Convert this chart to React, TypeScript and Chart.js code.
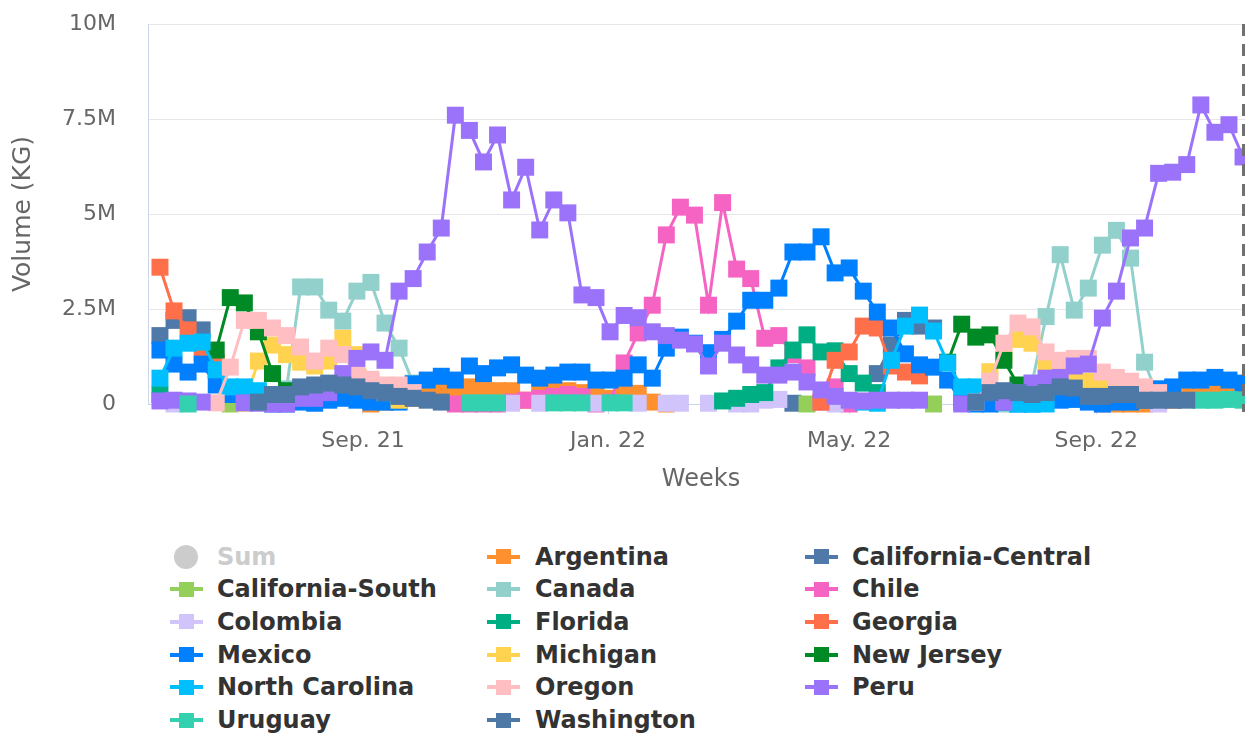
import React, { useEffect, useRef } from 'react';
import { Chart, registerables } from 'chart.js';

Chart.register(...registerables);

const _ = null;

// Weekly data, week 0 = 2021-05-23 (values in millions of KG)
const weekStart = Date.UTC(2021, 4, 23);
const axisMin = -0.85;
const axisMax = 77.78;
const markerWeek = 77;

const tickDates = [Date.UTC(2021, 8, 1), Date.UTC(2022, 0, 1), Date.UTC(2022, 4, 1), Date.UTC(2022, 8, 1)];
const tickLabels = ['Sep. 21', 'Jan. 22', 'May. 22', 'Sep. 22'];
const yTickValues = [0, 2.5, 5, 7.5, 10];
const yTickLabels = ['0', '2.5M', '5M', '7.5M', '10M'];

const argentina = [
  _, _, _, _, _, _, _, _, _, _,
  _, _, _, _, _, 0, 0.05, 0.1, 0.15, 0.3,
  0.35, 0.4, 0.45, 0.45, 0.35, 0.35, 0.1, 0.35, 0.35, 0.35,
  0.3, 0.3, 0.15, 0.3, 0.28, 0.05, 0, _, _, _,
  _, _, _, _, _, _, _, _, _, _,
  _, _, _, _, _, _, _, _, _, _,
  _, _, _, _, _, _, _, 0, 0, 0,
  0, 0.05, 0.1, 0.2, 0.3, 0.3, 0.25, 0.3,
];
const californiaCentral = [
  1.8, 2.2, 2.27, 1.95, 0.9, _, _, _, _, _,
  _, _, _, _, _, _, _, _, _, _,
  _, _, _, _, _, _, _, _, _, _,
  _, _, _, _, _, _, _, _, _, _,
  _, _, _, _, _, 0.02, _, _, _, _,
  _, 0.8, 1.55, 2.2, 2.05, 2.0, _, _, _, _,
  _, _, _, _, _, _, _, _, _, _,
  _, _, _, _, _, _, _, _,
];
const californiaSouth = [
  _, _, _, _, _, 0, _, _, _, _,
  _, _, _, _, _, _, _, _, _, _,
  _, _, _, _, _, _, _, _, _, _,
  _, _, _, _, _, _, _, _, _, _,
  _, _, _, _, _, _, 0, _, _, _,
  _, _, _, _, _, 0, _, _, _, _,
  _, _, _, _, _, _, _, _, _, _,
  _, _, _, _, _, _, _, _,
];
const canada = [
  _, _, _, _, _, _, _, _, _, 0.4,
  3.08, 3.08, 2.47, 2.18, 2.97, 3.2, 2.13, 1.47, 0.55, _,
  _, _, _, _, _, _, _, _, _, _,
  _, _, _, _, _, _, _, _, _, _,
  _, _, _, _, _, _, _, _, _, _,
  _, _, _, _, _, _, _, _, _, _,
  0, 0.1, 0.55, 2.3, 3.93, 2.47, 3.05, 4.18, 4.57, 3.84,
  1.1, 0.15, _, _, _, _, _, _,
];
const chile = [
  _, _, _, _, _, _, _, _, _, _,
  _, _, _, _, _, _, _, _, _, _,
  _, 0, 0, 0, 0, 0.05, 0.1, 0.15, 0.2, 0.25,
  0.2, 0, 0.05, 1.08, 1.87, 2.6, 4.45, 5.18, 4.97, 2.6,
  5.3, 3.55, 3.3, 1.73, 1.8, 1.3, 0.95, 0.05, 0.45, 0,
  _, _, _, _, _, _, _, _, _, _,
  _, _, _, _, _, _, _, _, _, _,
  _, _, _, _, _, _, _, _,
];
const colombia = [
  _, 0, _, _, _, _, _, _, _, _,
  _, _, _, _, _, _, _, _, _, _,
  _, _, _, _, _, 0.02, _, 0.02, _, _,
  _, 0.02, _, _, 0.02, _, 0.02, 0.02, _, 0.02,
  _, 0, 0, 0.1, 0.12, _, _, _, 0, _,
  _, _, _, _, _, _, _, _, _, _,
  _, _, _, _, _, _, _, 0, _, _,
  _, 0, _, _, _, _, _, _,
];
const florida = [
  0.25, _, _, _, _, _, _, _, _, _,
  _, _, _, _, _, _, _, _, _, _,
  _, _, _, _, _, _, _, _, _, _,
  _, _, _, _, _, _, _, _, _, _,
  0.08, 0.15, 0.25, 0.3, 0.95, 1.42, 1.82, 1.37, 1.4, 0.8,
  0.55, 0.3, _, _, _, _, _, _, _, _,
  _, _, _, _, _, _, _, _, _, _,
  _, _, _, _, _, _, _, _,
];
const georgia = [
  3.6, 2.45, 1.95, 1.35, 1.1, _, _, _, _, _,
  _, _, _, _, _, _, _, _, _, _,
  _, _, _, _, _, _, _, _, _, _,
  _, _, _, _, _, _, _, _, _, _,
  _, _, _, _, _, _, _, 0.05, 1.15, 1.37,
  2.05, 2.0, 1.0, 0.84, 0.74, _, _, _, _, _,
  _, _, _, _, _, _, _, _, _, _,
  _, _, _, _, _, _, _, _,
];
const mexico = [
  1.42, 1.05, 0.84, 1.05, 0.5, 0.25, 0.1, 0.05, 0, 0,
  0.05, 0.02, 0.1, 0.15, 0.1, 0.05, 0.05, 0.05, 0.53, 0.63,
  0.73, 0.63, 1.0, 0.8, 0.95, 1.03, 0.76, 0.68, 0.76, 0.84,
  0.84, 0.63, 0.63, 0.68, 1.03, 0.68, 1.47, 1.76, 1.6, 1.35,
  1.7, 2.18, 2.73, 2.73, 3.05, 4.0, 4.0, 4.4, 3.45, 3.58,
  2.97, 2.42, 2.0, 1.32, 1.03, 0.97, 0.63, 0.05, 0, 0,
  0.05, 0, 0, 0.1, 0.1, 0.12, 0.05, 0, 0.05, 0.05,
  0.1, 0.4, 0.45, 0.63, 0.63, 0.7, 0.63, 0.55,
];
const michigan = [
  _, _, _, _, _, _, 0.02, 1.13, 1.55, 1.3,
  1.1, 1.0, 1.13, 1.73, 1.3, 0.6, 0.3, 0.1, _, _,
  _, _, _, _, _, _, _, _, _, _,
  _, _, _, _, _, _, _, _, _, _,
  _, _, _, _, _, _, _, _, _, _,
  _, _, _, _, _, _, _, _, _, 0.85,
  1.3, 1.7, 1.6, 1.0, 0.9, 0.8, 0.6, 0.45, 0.35, _,
  _, _, _, _, _, _, _, _,
];
const newJersey = [
  _, _, _, _, 1.42, 2.8, 2.66, 1.9, 0.8, 0.35,
  _, _, _, _, _, _, _, _, _, _,
  _, _, _, _, _, _, _, _, _, _,
  _, _, _, _, _, _, _, _, _, _,
  _, _, _, _, _, _, _, _, _, _,
  _, _, _, _, _, _, 1.1, 2.1, 1.76, 1.82,
  1.15, 0.5, 0.4, _, _, _, _, _, _, _,
  _, _, _, _, _, _, _, _,
];
const northCarolina = [
  0.68, 1.47, 1.6, 1.63, 0.9, 0.45, 0.45, 0.35, _, _,
  _, _, _, _, _, _, _, _, _, _,
  _, _, _, _, _, _, _, _, _, _,
  _, _, _, _, _, _, _, _, _, _,
  _, _, _, _, _, _, _, _, _, _,
  0.05, 0.02, 1.15, 2.05, 2.34, 1.92, 1.08, 0.45, 0.45, 0.3,
  0.05, 0, 0, 0, _, _, _, _, _, _,
  _, _, _, _, _, _, _, _,
];
const oregon = [
  _, _, _, _, 0.03, 0.97, 2.2, 2.2, 2.0, 1.8,
  1.5, 1.13, 1.47, 1.3, 0.76, 0.65, 0.5, 0.5, 0.3, _,
  _, _, _, _, _, _, _, _, _, _,
  _, _, _, _, _, _, _, _, _, _,
  _, _, _, _, _, _, _, _, _, _,
  _, _, _, _, _, _, _, _, 0.05, 0.6,
  1.6, 2.13, 2.03, 1.37, 1.15, 1.2, 1.2, 0.84, 0.7, 0.6,
  0.45, 0.3, _, _, _, _, _, _,
];
const peru = [
  0.08, 0.1, 0.08, 0.05, _, _, 0.03, 0.02, 0, 0,
  0.15, 0.15, 0.3, 0.8, 1.2, 1.37, 1.15, 2.97, 3.3, 4.0,
  4.63, 7.6, 7.2, 6.37, 7.08, 5.37, 6.23, 4.58, 5.37, 5.03,
  2.87, 2.8, 1.9, 2.33, 2.27, 1.9, 1.8, 1.68, 1.58, 1.0,
  1.6, 1.29, 1.03, 0.76, 0.76, 0.84, 0.58, 0.37, 0.2, 0.1,
  0.08, 0.1, 0.1, 0.1, 0.1, _, _, 0, _, _,
  0.05, 0.3, 0.55, 0.68, 0.7, 1.0, 1.05, 2.26, 2.97, 4.37,
  4.63, 6.07, 6.1, 6.3, 7.87, 7.15, 7.35, 6.5,
];
const uruguay = [
  _, _, 0, _, _, _, _, _, _, _,
  _, _, _, _, _, _, _, _, _, _,
  _, _, 0.03, 0.03, 0.03, _, _, _, 0.03, 0.03,
  0.03, _, 0.03, 0.03, _, _, _, _, _, _,
  _, _, _, _, _, _, _, _, _, _,
  _, _, _, _, _, _, _, _, _, _,
  _, _, _, _, _, _, _, _, _, _,
  _, _, _, _, 0.1, 0.1, 0.12, 0.1,
];
const washington = [
  _, _, _, _, _, _, _, 0.05, 0.25, 0.25,
  0.45, 0.5, 0.55, 0.5, 0.45, 0.35, 0.3, 0.2, 0.15, 0.1,
  0.05, _, _, _, _, _, _, _, _, _,
  _, _, _, _, _, _, _, _, _, _,
  _, _, _, _, _, _, _, _, _, _,
  _, _, _, _, _, _, _, _, 0.05, 0.3,
  0.35, 0.3, 0.25, 0.3, 0.45, 0.42, 0.2, 0.2, 0.25, 0.25,
  0.1, 0.1, 0.1, 0.1, _, _, _, _,
];

const seriesNames = [
  'Argentina', 'California-Central', 'California-South', 'Canada', 'Chile', 'Colombia',
  'Florida', 'Georgia', 'Mexico', 'Michigan', 'New Jersey', 'North Carolina', 'Oregon',
  'Peru', 'Uruguay', 'Washington',
];
const seriesValues = [
  argentina, californiaCentral, californiaSouth, canada, chile, colombia,
  florida, georgia, mexico, michigan, newJersey, northCarolina, oregon,
  peru, uruguay, washington,
];
const seriesColors = [
  '#ff9030', '#4f79a8', '#94cf59', '#92d0cc', '#f564c2', '#d0c4fb',
  '#00ae84', '#ff6f4a', '#0080ff', '#ffd250', '#008a25', '#00bfff', '#ffbfc2',
  '#9b73fb', '#33d1b0', '#4e78a5',
];

const FONT = '"DejaVu Sans", Verdana, sans-serif';
const DAY = 86400000;
const CANVAS_W = 1256;
const CANVAS_H = 500;

const legendNames = ['Sum', ...seriesNames];
const legendColors = ['#cccccc', ...seriesColors];

function Legend() {
  const colSym = [170, 487, 805];
  const colText = [217, 535, 852];
  return (
    <>
      {legendNames.map((name, k) => {
        const col = k % 3;
        const row = Math.floor(k / 3);
        const cy = 556.5 + row * 32.7;
        const hidden = name === 'Sum';
        const color = legendColors[k];
        return (
          <div key={name}>
            {hidden ? (
              <div style={{ position: 'absolute', left: colSym[col] + 4, top: cy - 12, width: 24, height: 24, borderRadius: 12, background: color }} />
            ) : (
              <>
                <div style={{ position: 'absolute', left: colSym[col], top: cy - 2, width: 33, height: 4, background: color }} />
                <div style={{ position: 'absolute', left: colSym[col] + 9, top: cy - 7.5, width: 15, height: 15, background: color }} />
              </>
            )}
            <div style={{ position: 'absolute', left: colText[col], top: cy - 15, height: 30, lineHeight: '30px', fontFamily: FONT, fontWeight: 'bold', fontSize: 24, color: hidden ? '#cccccc' : '#333333', whiteSpace: 'nowrap' }}>{name}</div>
          </div>
        );
      })}
    </>
  );
}

export default function App() {
  const canvasRef = useRef<HTMLCanvasElement | null>(null);

  useEffect(() => {
    const canvas = canvasRef.current;
    if (!canvas) return;
    const n = seriesNames.length;
    const datasets = seriesNames.map((name, k) => ({
      label: name,
      data: seriesValues[k].map((v, i) => ({ x: i, y: v })),
      borderColor: seriesColors[k],
      backgroundColor: seriesColors[k],
      pointBackgroundColor: seriesColors[k],
      pointBorderWidth: 0,
      pointStyle: 'rect' as const,
      pointRadius: 12,
      pointHoverRadius: 12,
      borderWidth: 3,
      tension: 0,
      spanGaps: false,
      clip: false as const,
      order: n - k,
    }));

    const plotLine = {
      id: 'plotLine',
      afterDatasetsDraw(chart: any) {
        const { ctx, chartArea, scales } = chart;
        const x = Math.round(scales.x.getPixelForValue(markerWeek)) + 0.5;
        ctx.save();
        ctx.strokeStyle = '#707070';
        ctx.lineWidth = 3;
        ctx.setLineDash([12, 8]);
        ctx.beginPath();
        ctx.moveTo(x, chartArea.top);
        ctx.lineTo(x, chartArea.bottom + 8);
        ctx.stroke();
        ctx.restore();
      },
    };

    const chart = new Chart(canvas, {
      type: 'line',
      data: { datasets },
      options: {
        animation: false,
        responsive: false,
        maintainAspectRatio: false,
        devicePixelRatio: 1,
        events: [],
        layout: { autoPadding: false, padding: { top: 24, right: 2, bottom: 0, left: 0 } },
        plugins: { legend: { display: false }, tooltip: { enabled: false } },
        scales: {
          x: {
            type: 'linear',
            min: axisMin,
            max: axisMax,
            afterBuildTicks: (scale: any) => {
              scale.ticks = tickDates.map((d) => ({ value: (d - weekStart) / (7 * DAY) }));
            },
            afterFit: (scale: any) => { scale.height = 96; },
            ticks: {
              autoSkip: false,
              maxRotation: 0,
              padding: 14,
              color: '#666666',
              font: { family: FONT, size: 22 },
              callback: (_v: any, idx: number) => tickLabels[idx],
            },
            grid: { drawOnChartArea: false, drawTicks: true, tickLength: 10, color: '#ccd6eb', lineWidth: 1 },
            border: { display: true, color: '#ccd6eb', width: 1 },
            title: { display: true, text: 'Weeks', color: '#666666', font: { family: FONT, size: 24 }, padding: { top: 0, bottom: 5.6 } },
          },
          y: {
            type: 'linear',
            min: 0,
            max: 10,
            afterBuildTicks: (scale: any) => {
              scale.ticks = yTickValues.map((v) => ({ value: v }));
            },
            afterFit: (scale: any) => { scale.width = 148; },
            ticks: {
              padding: 2,
              color: '#666666',
              font: { family: FONT, size: 22 },
              callback: (_v: any, idx: number) => yTickLabels[idx],
            },
            grid: { color: '#e6e6e6', lineWidth: 1, drawTicks: true, tickLength: 30, tickColor: 'rgba(0,0,0,0)' },
            border: { display: true, color: '#ccd6eb', width: 1 },
            title: { display: true, text: 'Volume (KG)', color: '#666666', font: { family: FONT, size: 25 }, padding: { top: 8, bottom: 0 } },
          },
        },
      },
      plugins: [plotLine],
    });
    return () => chart.destroy();
  }, []);

  return (
    <div style={{ position: 'absolute', left: 0, top: 0, width: 1245, height: 734, overflow: 'hidden', background: '#ffffff' }}>
      <div style={{ position: 'absolute', left: 0, top: 0, width: CANVAS_W, height: CANVAS_H }}>
        <canvas ref={canvasRef} width={CANVAS_W} height={CANVAS_H} style={{ display: 'block', width: CANVAS_W, height: CANVAS_H }} />
      </div>
      <Legend />
    </div>
  );
}
